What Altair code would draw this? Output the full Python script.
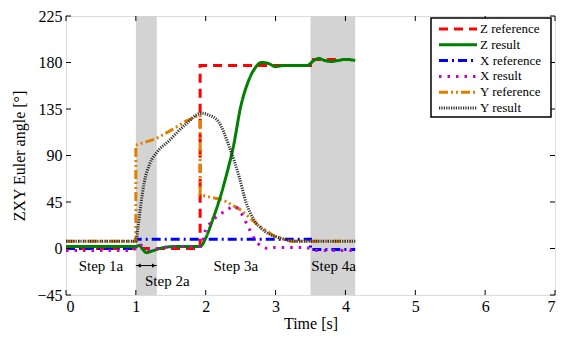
import altair as alt
import pandas as pd

# ---- data ----
z_ref_t = [0, 1.92, 1.92, 3.5, 3.5, 4.14]
z_ref_v = [0, 0, 177, 177, 183, 183]

z_res_t = [0, 0.5, 1.0, 1.05, 1.1, 1.15, 1.25, 1.4, 1.6, 1.8, 1.92, 2.0, 2.1, 2.2, 2.3, 2.4, 2.5,
           2.6, 2.7, 2.8, 2.9, 3.0, 3.1, 3.2, 3.3, 3.45, 3.55, 3.62, 3.7, 3.8, 3.9, 4.0, 4.14]
z_res_v = [2, 2, 2, 3, -1, -4, -2, 1, 2, 2, 2, 10, 28, 48, 72, 100, 137,
           160, 174, 180, 179, 176, 177, 177, 177, 177, 182, 184, 182, 181, 182, 183, 182]

x_ref_t = [0, 1.0, 1.0, 3.5, 3.5, 4.14]
x_ref_v = [0, 0, 9, 9, -1, -1]

x_res_t = [0, 0.5, 0.9, 1.0, 1.05, 1.1, 1.2, 1.4, 1.7, 1.92, 2.0, 2.1, 2.2, 2.3, 2.4, 2.5, 2.6,
           2.7, 2.8, 2.9, 3.0, 3.2, 3.4, 3.5, 3.6, 3.8, 4.14]
x_res_v = [-2, -2, -2, 0, 4, 2, -1, 1, 2, 2, 18, 27, 33, 37, 41, 35, 22,
           9, 2, 0, 1, 1, 1, 0, -2, -2, -2]

y_ref_t = [0, 1.0, 1.0, 1.28, 1.52, 1.71, 1.87, 1.92, 1.92, 2.04, 2.25, 2.51, 2.74, 2.98, 3.21, 3.4, 4.14]
y_ref_v = [7, 7, 100, 106, 115, 123, 128, 129, 52, 50, 47, 37, 23, 12, 7, 7, 7]

y_res_t = [0, 1.0, 1.03, 1.07, 1.12, 1.2, 1.3, 1.47, 1.71, 1.94, 2.05, 2.18, 2.34, 2.48, 2.58,
           2.7, 2.84, 3.07, 3.3, 4.14]
y_res_v = [7, 7, 20, 42, 64, 82, 93, 104, 120, 131, 129, 123, 98, 69, 44,
           27, 17, 10, 7, 7]

series_names = ["Z reference", "Z result", "X reference", "X result", "Y reference", "Y result"]
series_colors = ["#ff0000", "#008000", "#0000ff", "#cc00cc", "#e08000", "#333333"]
series_dash = [[9, 6], [1, 0], [9, 4, 2, 4], [2.5, 6], [9, 3, 2, 3, 2, 3], [1.2, 1.2]]
series_width = [3, 3, 2.5, 3, 2.5, 2]

shade_start = [1.0, 3.5]
shade_end = [1.3, 4.14]

step_labels = ["Step 1a", "Step 2a", "Step 3a", "Step 4a"]
step_x = [0.5, 1.45, 2.43, 3.83]
step_y = [-17, -31, -17, -17]

arrow_x = [1.0]
arrow_x2 = [1.3]
arrow_y = [-16.5]

x_ticks = [0, 1, 2, 3, 4, 5, 6, 7]
y_ticks = [-45, 0, 45, 90, 135, 180, 225]

# ---- build tables ----
rows = []
for name, ts, vs in [("Z reference", z_ref_t, z_ref_v), ("X reference", x_ref_t, x_ref_v),
                     ("Y reference", y_ref_t, y_ref_v)]:
    for i, (t, v) in enumerate(zip(ts, vs)):
        rows.append({"t": t, "v": v, "series": name, "i": i, "kind": "ref"})
for name, ts, vs in [("Z result", z_res_t, z_res_v), ("X result", x_res_t, x_res_v),
                     ("Y result", y_res_t, y_res_v)]:
    for i, (t, v) in enumerate(zip(ts, vs)):
        rows.append({"t": t, "v": v, "series": name, "i": i, "kind": "res"})
df = pd.DataFrame(rows)

W, H = 489, 279
FONT = "'Liberation Serif', 'Times New Roman', serif"

xs = alt.Scale(domain=[0, 7], nice=False, zero=False)
ys = alt.Scale(domain=[-45, 225], nice=False, zero=False)

x_axis = alt.Axis(title="Time [s]", values=x_ticks, format="d", domain=False, ticks=False,
                  grid=False, labelPadding=3, titlePadding=1)
y_axis = alt.Axis(title="ZXY Euler angle [°]", values=y_ticks, format="d", domain=False,
                  ticks=False, grid=False, labelPadding=4, titlePadding=9)

color_enc = alt.Color("series:N", scale=alt.Scale(domain=series_names, range=series_colors),
                      legend=None)
dash_enc = alt.StrokeDash("series:N", scale=alt.Scale(domain=series_names, range=series_dash),
                          legend=None)
width_enc = alt.StrokeWidth("series:N", scale=alt.Scale(domain=series_names, range=series_width),
                            legend=None)

shade_df = pd.DataFrame({"a": shade_start, "b": shade_end})
shade = alt.Chart(shade_df).mark_rect(color="#d3d3d3").encode(
    x=alt.X("a:Q", scale=xs, axis=x_axis), x2="b:Q",
    y=alt.value(0), y2=alt.value(H),
)

refs = alt.Chart(df).transform_filter(alt.datum.kind == "ref").mark_line().encode(
    x=alt.X("t:Q", scale=xs, axis=x_axis),
    y=alt.Y("v:Q", scale=ys, axis=y_axis),
    color=color_enc, strokeDash=dash_enc, strokeWidth=width_enc,
    order="i:Q",
)
res = alt.Chart(df).transform_filter(alt.datum.kind == "res").mark_line(interpolate="monotone").encode(
    x=alt.X("t:Q", scale=xs, axis=x_axis),
    y=alt.Y("v:Q", scale=ys, axis=y_axis),
    color=color_enc, strokeDash=dash_enc, strokeWidth=width_enc,
    order="i:Q",
)

txt_df = pd.DataFrame({"label": step_labels, "x": step_x, "y": step_y})
texts = alt.Chart(txt_df).mark_text(fontSize=15, color="black", font=FONT).encode(
    x=alt.X("x:Q", scale=xs), y=alt.Y("y:Q", scale=ys), text="label:N")

arr_df = pd.DataFrame({"x": arrow_x, "x2": arrow_x2, "y": arrow_y})
arrow = alt.Chart(arr_df).mark_rule(color="black", strokeWidth=1).encode(
    x=alt.X("x:Q", scale=xs), x2="x2:Q", y=alt.Y("y:Q", scale=ys))
head_l = alt.Chart(arr_df).mark_point(shape="triangle-left", filled=True, color="black",
                                      size=18, xOffset=3, opacity=1).encode(
    x=alt.X("x:Q", scale=xs), y=alt.Y("y:Q", scale=ys))
head_r = alt.Chart(arr_df).mark_point(shape="triangle-right", filled=True, color="black",
                                      size=18, xOffset=-3, opacity=1).encode(
    x=alt.X("x2:Q", scale=xs), y=alt.Y("y:Q", scale=ys))

xt_df = pd.DataFrame({"t": x_ticks})
yt_df = pd.DataFrame({"v": y_ticks})
tb = alt.Chart(xt_df).mark_rule(color="black", strokeWidth=1).encode(
    x=alt.X("t:Q", scale=xs), y=alt.value(H), y2=alt.value(H - 5))
tt = alt.Chart(xt_df).mark_rule(color="black", strokeWidth=1).encode(
    x=alt.X("t:Q", scale=xs), y=alt.value(0), y2=alt.value(5))
tl = alt.Chart(yt_df).mark_rule(color="black", strokeWidth=1).encode(
    y=alt.Y("v:Q", scale=ys), x=alt.value(0), x2=alt.value(5))
tr = alt.Chart(yt_df).mark_rule(color="black", strokeWidth=1).encode(
    y=alt.Y("v:Q", scale=ys), x=alt.value(W), x2=alt.value(W - 5))

main = alt.layer(shade, refs, res, texts, arrow, head_l, head_r, tb, tt, tl, tr)

# ---- hand-made legend box (compact, like the reference) ----
LX0, LX1 = W - 124, W - 4
leg_df = pd.DataFrame({"series": series_names})
leg_y = alt.Y("series:N", scale=alt.Scale(type="point", domain=series_names, range=[13, 92],
                                          padding=0), axis=None)
leg_box = alt.Chart(pd.DataFrame({"k": [0]})).mark_rect(
    fill="white", stroke="black", strokeWidth=1.5).encode(
    x=alt.value(LX0), x2=alt.value(LX1), y=alt.value(2), y2=alt.value(101))
leg_lines = alt.Chart(leg_df).mark_rule().encode(
    x=alt.value(LX0 + 8), x2=alt.value(LX0 + 46), y=leg_y,
    color=color_enc, strokeDash=dash_enc, strokeWidth=width_enc)
leg_text = alt.Chart(leg_df).mark_text(align="left", baseline="middle", fontSize=13,
                                       color="black", font=FONT).encode(
    x=alt.value(LX0 + 49), y=leg_y, text="series:N")
legend = alt.layer(leg_box, leg_lines, leg_text)

chart = alt.layer(main, legend).resolve_scale(y="independent").properties(
    width=W, height=H,
    autosize=alt.AutoSizeParams(type="none"),
    padding={"left": 58, "top": 8, "right": 1, "bottom": 38},
).configure_view(stroke="black", strokeWidth=1.5).configure(background="white").configure_axis(
    labelFont=FONT, labelFontSize=16, labelColor="black", titleFont=FONT, titleFontSize=16,
    titleFontWeight="normal", titleColor="black"
).configure_text(font=FONT)

chart.save("out.html", embed_options={"renderer": "svg", "actions": False})
